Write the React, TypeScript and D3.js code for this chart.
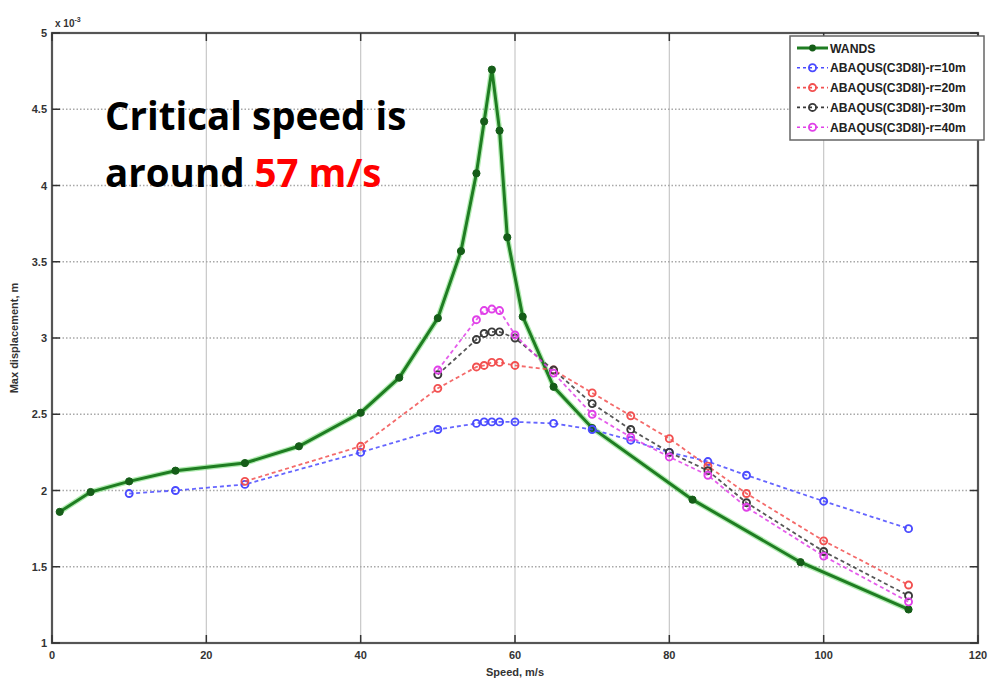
import React from "react";
import * as d3 from "d3";

const wandsX = [1, 5, 10, 16, 25, 32, 40, 45, 50, 53, 55, 56, 57, 58, 59, 61, 65, 70, 83, 97, 111];
const wandsY = [1.86, 1.99, 2.06, 2.13, 2.18, 2.29, 2.51, 2.74, 3.13, 3.57, 4.08, 4.42, 4.76, 4.36, 3.66, 3.14, 2.68, 2.41, 1.94, 1.53, 1.22];

const r10X = [10, 16, 25, 40, 50, 55, 56, 57, 58, 60, 65, 70, 75, 80, 85, 90, 100, 111];
const r10Y = [1.98, 2.0, 2.04, 2.25, 2.40, 2.44, 2.45, 2.45, 2.45, 2.45, 2.44, 2.40, 2.33, 2.25, 2.19, 2.10, 1.93, 1.75];

const abqX = [50, 55, 56, 57, 58, 60, 65, 70, 75, 80, 85, 90, 100, 111];
const r20X = [25, 40, ...abqX];
const r20Y = [2.06, 2.29, 2.67, 2.81, 2.82, 2.84, 2.84, 2.82, 2.79, 2.64, 2.49, 2.34, 2.16, 1.98, 1.67, 1.38];
const r30Y = [2.76, 2.99, 3.03, 3.04, 3.04, 3.0, 2.79, 2.57, 2.40, 2.25, 2.13, 1.92, 1.60, 1.31];
const r40Y = [2.79, 3.12, 3.18, 3.19, 3.18, 3.02, 2.77, 2.50, 2.35, 2.22, 2.10, 1.89, 1.57, 1.27];

const seriesNames = ["WANDS", "ABAQUS(C3D8I)-r=10m", "ABAQUS(C3D8I)-r=20m", "ABAQUS(C3D8I)-r=30m", "ABAQUS(C3D8I)-r=40m"];
const seriesColors = ["#1f7d22", "#4a4aff", "#f25050", "#3a3a3a", "#e040e8"];

const xTicks = [0, 20, 40, 60, 80, 100, 120];
const yTicks = [1, 1.5, 2, 2.5, 3, 3.5, 4, 4.5, 5];

export default function App() {
  const W = 997, H = 684;
  const x = d3.scaleLinear().domain([0, 120]).range([52, 978]);
  const y = d3.scaleLinear().domain([1, 5]).range([643, 33]);

  const series = [
    { xs: wandsX, ys: wandsY },
    { xs: r10X, ys: r10Y },
    { xs: r20X, ys: r20Y },
    { xs: abqX, ys: r30Y },
    { xs: abqX, ys: r40Y },
  ];

  const line = d3.line<[number, number]>().x((d) => x(d[0])).y((d) => y(d[1]));
  const fontAxis = "Arial, 'Liberation Sans', sans-serif";

  return (
    <svg width={W} height={H} style={{ position: "absolute", left: 0, top: 0, background: "#fff" }}>
      <rect x={0} y={0} width={W} height={H} fill="#fff" />
      {/* grid */}
      {xTicks.slice(1, -1).map((t) => (
        <line key={"gx" + t} x1={x(t)} x2={x(t)} y1={y(1)} y2={y(5)} stroke="#c8c8c8" strokeWidth={1.2} />
      ))}
      {yTicks.slice(1, -1).map((t) => (
        <line key={"gy" + t} x1={x(0)} x2={x(120)} y1={y(t)} y2={y(t)} stroke="#a8a8a8" strokeWidth={1.3} strokeDasharray="1.5,2" />
      ))}
      {/* series */}
      {series.map((s, i) => {
        const pts: [number, number][] = s.xs.map((v, k) => [v, s.ys[k]]);
        if (i === 0) {
          return (
            <g key={i}>
              <path d={line(pts) || ""} fill="none" stroke="#7ee07e" strokeWidth={5.5} opacity={0.6} />
              <path d={line(pts) || ""} fill="none" stroke={seriesColors[0]} strokeWidth={3} />
              {pts.map((p, k) => (
                <circle key={k} cx={x(p[0])} cy={y(p[1])} r={3.6} fill="#155d18" stroke="#155d18" />
              ))}
            </g>
          );
        }
        return (
          <g key={i}>
            <path d={line(pts) || ""} fill="none" stroke={seriesColors[i]} strokeWidth={1.8} strokeDasharray="4,3" opacity={0.85} />
            {pts.map((p, k) => (
              <circle key={k} cx={x(p[0])} cy={y(p[1])} r={3.5} fill="none" stroke={seriesColors[i]} strokeWidth={1.9} />
            ))}
          </g>
        );
      })}
      {/* axes box */}
      <rect x={x(0)} y={y(5)} width={x(120) - x(0)} height={y(1) - y(5)} fill="none" stroke="#555" strokeWidth={2.2} />
      {xTicks.map((t) => (
        <g key={"xt" + t}>
          <line x1={x(t)} x2={x(t)} y1={y(1)} y2={y(1) - 8} stroke="#333" strokeWidth={1.5} />
          <line x1={x(t)} x2={x(t)} y1={y(5)} y2={y(5) + 8} stroke="#333" strokeWidth={1.5} />
          <text x={x(t)} y={y(1) + 16} textAnchor="middle" fontSize={11} fontWeight="bold" fill="#333" fontFamily={fontAxis}>{t}</text>
        </g>
      ))}
      {yTicks.map((t) => (
        <g key={"yt" + t}>
          <line x1={x(0)} x2={x(0) + 8} y1={y(t)} y2={y(t)} stroke="#333" strokeWidth={1.5} />
          <line x1={x(120)} x2={x(120) - 8} y1={y(t)} y2={y(t)} stroke="#333" strokeWidth={1.5} />
          <text x={x(0) - 5} y={y(t) + 4} textAnchor="end" fontSize={11} fontWeight="bold" fill="#333" fontFamily={fontAxis}>{t}</text>
        </g>
      ))}
      <text x={x(0) + 3} y={y(5) - 6} fontSize={10} fontWeight="bold" fill="#333" fontFamily={fontAxis}>
        x 10<tspan dy={-5} fontSize={7}>-3</tspan>
      </text>
      <text x={x(60)} y={y(1) + 33} textAnchor="middle" fontSize={11} fontWeight="bold" fill="#333" fontFamily={fontAxis}>Speed, m/s</text>
      <text transform={`translate(18,${y(3)}) rotate(-90)`} textAnchor="middle" fontSize={11} fontWeight="bold" fill="#333" fontFamily={fontAxis}>Max displacement, m</text>
      {/* legend */}
      <g>
        <rect x={790} y={36} width={194} height={104} fill="#fff" stroke="#666" strokeWidth={1.5} />
        {seriesNames.map((n, i) => {
          const ly = 48 + i * 19.8;
          return (
            <g key={n}>
              {i === 0 ? (
                <>
                  <line x1={797} x2={828} y1={ly} y2={ly} stroke={seriesColors[0]} strokeWidth={3} />
                  <circle cx={812.5} cy={ly} r={3.4} fill="#155d18" />
                </>
              ) : (
                <>
                  <line x1={797} x2={828} y1={ly} y2={ly} stroke={seriesColors[i]} strokeWidth={1.6} strokeDasharray="3,3" />
                  <circle cx={812.5} cy={ly} r={3.6} fill="none" stroke={seriesColors[i]} strokeWidth={1.8} />
                </>
              )}
              <text x={830} y={ly + 4.5} fontSize={12.2} fontWeight="bold" fill="#222" fontFamily={fontAxis}>{n}</text>
            </g>
          );
        })}
      </g>
      {/* annotation */}
      <text x={105} y={130} fontSize={38.5} fontWeight="bold" fill="#000" fontFamily="'Open Sans', sans-serif">Critical speed is</text>
      <text x={105} y={187} fontSize={38.5} fontWeight="bold" fill="#000" fontFamily="'Open Sans', sans-serif">
        around <tspan fill="#ff0000">57 m/s</tspan>
      </text>
    </svg>
  );
}
